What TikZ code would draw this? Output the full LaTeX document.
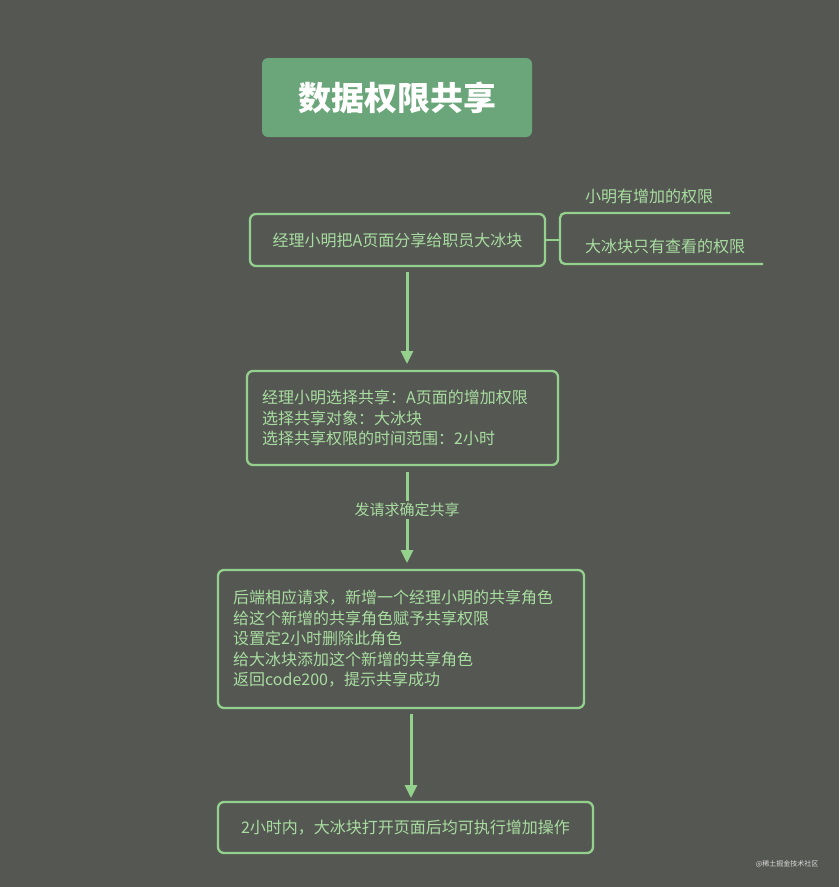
\documentclass[tikz,border=0pt]{standalone}
\usepackage{fontspec}
\setmainfont{Noto Sans CJK SC}
\usetikzlibrary{arrows.meta}
\definecolor{bg}{HTML}{555753}
\definecolor{gr}{HTML}{93D18C}
\definecolor{tt}{HTML}{A8DDA0}
\definecolor{tb}{HTML}{6BA67A}
\tikzset{
 box/.style={draw=gr,line width=2.3pt,rounded corners=6pt,inner sep=0pt},
 txt/.style={text=tt,font=\fontsize{16}{20.5}\selectfont,align=left,inner sep=0pt},
 arr/.style={draw=gr,line width=3pt,-{Triangle[width=12pt,length=13pt]}}
}
\begin{document}
\begin{tikzpicture}[x=1pt,y=-1pt]
\fill[bg] (0,0) rectangle (839,887);
\useasboundingbox (0,0) rectangle (839,887);
\node[fill=tb,rounded corners=6pt,minimum width=270pt,minimum height=79pt,text=white,font=\fontsize{33}{38}\selectfont\bfseries] (title) at (397,97.5) {数据权限共享};
\node[box,minimum width=295pt,minimum height=52pt] (b1) at (397.5,240) {};
\node[txt] at (b1) {经理小明把A页面分享给职员大冰块};
\coordinate (j) at (560,240);
\draw[gr,line width=2.3pt] (b1.east) -- (j);
\draw[gr,line width=2.3pt,rounded corners=5pt] (730,213) -- (560,213) -- (560,264) -- (763,264);
\node[txt,anchor=west] (n1) at (585,196) {小明有增加的权限};
\node[txt,anchor=west] (n2) at (585,246) {大冰块只有查看的权限};
\node[box,minimum width=311pt,minimum height=94pt] (b2) at (402.5,418) {};
\node[txt,anchor=west] at (262,418) {经理小明选择共享：A页面的增加权限\\选择共享对象：大冰块\\选择共享权限的时间范围：2小时};
\node[box,minimum width=366pt,minimum height=138pt] (b3) at (401,639) {};
\node[txt,anchor=west] at (233,639) {后端相应请求，新增一个经理小明的共享角色\\给这个新增的共享角色赋予共享权限\\设置定2小时删除此角色\\给大冰块添加这个新增的共享角色\\返回code200，提示共享成功};
\node[box,minimum width=375pt,minimum height=51pt] (b4) at (405.5,827.5) {};
\node[txt] at (b4) {2小时内，大冰块打开页面后均可执行增加操作};
\draw[arr] (407,272) -- (407,364);
\draw[arr] (407,472) -- (407,563);
\node[fill=bg,txt,inner sep=2pt,font=\fontsize{15}{18}\selectfont] (lab) at (407,510) {发请求确定共享};
\draw[arr] (411,714) -- (411,798);
\node[text=white!80!bg,font=\fontsize{7}{8}\selectfont,anchor=east] (wm) at (822,864) {@稀土掘金技术社区};
\end{tikzpicture}
\end{document}
